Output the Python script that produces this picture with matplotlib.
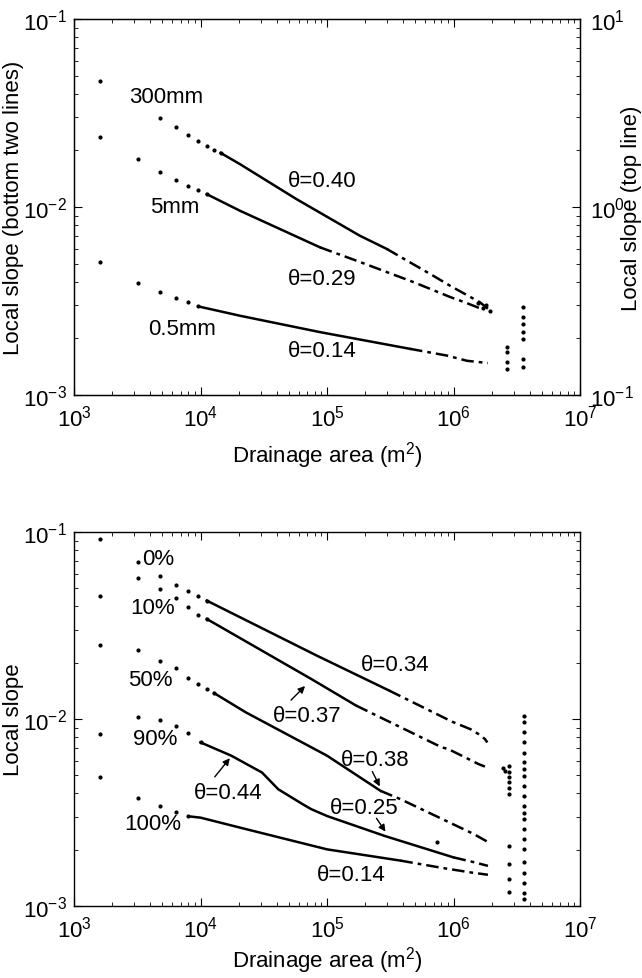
import matplotlib
matplotlib.use("Agg")
import matplotlib.pyplot as plt

plt.rcParams['font.family'] = ['Liberation Sans', 'DejaVu Sans']
plt.rcParams['mathtext.default'] = 'regular'
plt.rcParams['axes.unicode_minus'] = False

# ---- top panel: rainfall runs (300mm is read on the right axis) ----
mm300_area = [1600, 4800, 6400, 8000, 9600, 11200, 12800, 14400, 20500, 57500,
              182000, 297000, 690000, 940000, 1620000, 1900000]
mm300_slope = [4.70, 2.97, 2.67, 2.42, 2.25, 2.12, 2.02, 1.94, 1.69, 1.10,
               0.703, 0.598, 0.431, 0.381, 0.311, 0.285]

mm5_area = [1600, 3200, 4800, 6400, 8000, 9600, 11200, 20500, 88000, 182000,
            480000, 940000, 1230000, 1600000]
mm5_slope = [0.02365, 0.0180, 0.0154, 0.0139, 0.0130, 0.0123, 0.0117, 0.00955,
             0.0061, 0.0051, 0.00399, 0.00332, 0.00311, 0.0029]

mm05_area = [1600, 3200, 4800, 6400, 8000, 9600, 20500, 88000, 453000, 890000,
             1280000, 1870000]
mm05_slope = [0.00508, 0.00393, 0.00354, 0.00328, 0.00311, 0.00296, 0.00264,
              0.00216, 0.00176, 0.00162, 0.00152, 0.00148]

top_scatter_area = [1550000, 1700000, 1800000, 1950000,
                    2630000, 2630000, 2630000, 2630000,
                    3540000, 3540000, 3540000, 3540000, 3540000, 3540000, 3540000]
top_scatter_slope = [0.0031, 0.0029, 0.0030, 0.0028,
                     0.0018, 0.00169, 0.0015, 0.00137,
                     0.00294, 0.0026, 0.00239, 0.00216, 0.00199, 0.00155, 0.00141]

# ---- bottom panel: percentages ----
p0_area = [1600, 3200, 4800, 6400, 8000, 9600, 11200, 83500, 310000, 975000,
           1360000, 1580000, 1770000, 1850000]
p0_slope = [0.0918, 0.069, 0.0584, 0.0523, 0.0486, 0.0453, 0.043, 0.0218, 0.0142,
            0.00968, 0.00883, 0.0083, 0.00782, 0.0075]

p10_area = [1600, 3200, 4800, 6400, 8000, 9600, 11200, 74800, 170000, 810000,
            906000, 1580000, 1770000]
p10_slope = [0.0456, 0.0565, 0.0496, 0.0444, 0.0396, 0.036, 0.0343, 0.0164, 0.0118,
             0.00705, 0.00692, 0.00574, 0.00557]

p50_area = [1600, 3200, 4800, 6400, 8000, 9600, 11200, 12800, 22800, 100000,
            265000, 380000, 1440000, 1870000]
p50_slope = [0.0249, 0.0234, 0.0205, 0.0187, 0.0165, 0.0154, 0.01446, 0.01377,
             0.01086, 0.00637, 0.00413, 0.00373, 0.00243, 0.0022]

p90_area = [1600, 3200, 4800, 6400, 8000, 10000, 17500, 26000, 30600, 41200, 64400,
            74800, 100000, 286000, 1000000, 1430000, 1870000]
p90_slope = [0.0083, 0.01028, 0.0099, 0.00914, 0.0084, 0.0075, 0.00637, 0.0055,
             0.00518, 0.00421, 0.0035, 0.0033, 0.00303, 0.00237, 0.00182, 0.00172,
             0.00164]

p100_area = [1600, 3200, 4800, 6400, 8000, 10000, 22800, 100000, 380000, 810000,
             1390000, 1870000]
p100_slope = [0.00488, 0.00378, 0.00341, 0.00317, 0.00302, 0.00297, 0.00258,
              0.00201, 0.00175, 0.0016, 0.00151, 0.00147]

bot_scatter_area = [740000, 2450000, 2550000] + [2750000] * 10 + [3580000] * 21
bot_scatter_slope = [0.00219, 0.0055, 0.0053,
                     0.0056, 0.0052, 0.0049, 0.0046, 0.0043, 0.00398, 0.00209,
                     0.00168, 0.00139, 0.00119,
                     0.0104, 0.0096, 0.0085, 0.0075, 0.0066, 0.00586, 0.0054,
                     0.00497, 0.0044, 0.00388, 0.00343, 0.00316, 0.00291, 0.00258,
                     0.00228, 0.00201, 0.00171, 0.00151, 0.00133, 0.00118, 0.00109]

xlab = 'Drainage area (m$^2$)'
FS = 16


def draw(ax, area, slope, n_dots, i_tail):
    # separate bins as dots, dense part as a line, sparse tail as dash-dot
    ax.plot(area[:n_dots], slope[:n_dots], '.', color='k', ms=4)
    ax.plot(area[n_dots - 1:i_tail + 1], slope[n_dots - 1:i_tail + 1], '-',
            color='k', lw=1.8)
    ax.plot(area[i_tail:], slope[i_tail:], color='k', lw=1.8,
            linestyle=(0, (5, 2, 1.5, 2)))


def style(ax, right=True):
    ax.set_xscale('log')
    ax.set_yscale('log')
    ax.set_xlim(1e3, 1e7)
    ax.set_ylim(1e-3, 1e-1)
    ax.tick_params(which='both', direction='in', top=True, right=right,
                   labelsize=16, pad=5)
    ax.tick_params(axis='x', pad=7)
    ax.tick_params(which='major', length=6, width=0.8)
    ax.tick_params(which='minor', length=3, width=0.6)
    for s in ax.spines.values():
        s.set_linewidth(1.0)


fig = plt.figure(figsize=(6.42, 9.79), dpi=100)
ax1 = fig.add_axes([0.1153, 0.5955, 0.7882, 0.3841])
ax3 = fig.add_axes([0.1153, 0.0735, 0.7882, 0.3820])

# top panel
style(ax1, right=False)
ax2 = ax1.twinx()
ax2.set_yscale('log')
ax2.set_ylim(0.1, 10)
ax2.tick_params(which='both', direction='in', labelsize=16, pad=7)
ax2.tick_params(which='major', length=6, width=0.8)
ax2.tick_params(which='minor', length=3, width=0.6)

draw(ax2, mm300_area, mm300_slope, 8, 11)
draw(ax1, mm5_area, mm5_slope, 7, 8)
draw(ax1, mm05_area, mm05_slope, 6, 8)
ax1.plot(top_scatter_area, top_scatter_slope, '.', color='k', ms=4)

ax1.text(5330, 0.0385, '300mm', fontsize=FS, ha='center', va='center')
ax1.text(6280, 0.0100, '5mm', fontsize=FS, ha='center', va='center')
ax1.text(7150, 0.00227, '0.5mm', fontsize=FS, ha='center', va='center')
ax1.text(9.1e4, 0.01375, 'θ=0.40', fontsize=FS, ha='center', va='center')
ax1.text(9.1e4, 0.00419, 'θ=0.29', fontsize=FS, ha='center', va='center')
ax1.text(9.1e4, 0.00173, 'θ=0.14', fontsize=FS, ha='center', va='center')

# bottom panel
style(ax3)
draw(ax3, p0_area, p0_slope, 7, 8)
draw(ax3, p10_area, p10_slope, 7, 8)
draw(ax3, p50_area, p50_slope, 8, 10)
draw(ax3, p90_area, p90_slope, 6, 14)
draw(ax3, p100_area, p100_slope, 5, 8)
ax3.plot(bot_scatter_area, bot_scatter_slope, '.', color='k', ms=4)

ax3.text(4620, 0.0722, '0%', fontsize=FS, ha='center', va='center')
ax3.text(4140, 0.0393, '10%', fontsize=FS, ha='center', va='center')
ax3.text(3990, 0.01637, '50%', fontsize=FS, ha='center', va='center')
ax3.text(4370, 0.00791, '90%', fontsize=FS, ha='center', va='center')
ax3.text(4210, 0.00275, '100%', fontsize=FS, ha='center', va='center')
ax3.text(3.45e5, 0.01968, 'θ=0.34', fontsize=FS, ha='center', va='center')
ax3.text(6.95e4, 0.0105, 'θ=0.37', fontsize=FS, ha='center', va='center')
ax3.text(2.39e5, 0.00604, 'θ=0.38', fontsize=FS, ha='center', va='center')
ax3.text(1.65e4, 0.00407, 'θ=0.44', fontsize=FS, ha='center', va='center')
ax3.text(1.96e5, 0.00338, 'θ=0.25', fontsize=FS, ha='center', va='center')
ax3.text(1.55e5, 0.00147, 'θ=0.14', fontsize=FS, ha='center', va='center')

arrow = dict(arrowstyle='-|>', color='k', lw=1.0, mutation_scale=10)
ax3.annotate('', xy=(6.95e4, 0.01538), xytext=(5.01e4, 0.01233), arrowprops=arrow)
ax3.annotate('', xy=(2.67e5, 0.00423), xytext=(2.23e5, 0.0054), arrowprops=arrow)
ax3.annotate('', xy=(1.76e4, 0.00634), xytext=(1.256e4, 0.00478), arrowprops=arrow)
ax3.annotate('', xy=(2.98e5, 0.00243), xytext=(2.39e5, 0.00303), arrowprops=arrow)

# axis labels
fig.text(14 / 642, 1 - 208 / 979, 'Local slope (bottom two lines)', rotation=90,
         ha='center', va='center', fontsize=FS)
fig.text(632 / 642, 1 - 208 / 979, 'Local slope (top line)', rotation=90,
         ha='center', va='center', fontsize=FS)
fig.text(14 / 642, 1 - 720 / 979, 'Local slope', rotation=90,
         ha='center', va='center', fontsize=FS)
fig.text(327 / 642, 1 - 456 / 979, xlab, ha='center', va='center', fontsize=FS)
fig.text(327 / 642, 1 - 961 / 979, xlab, ha='center', va='center', fontsize=FS)

fig.savefig('out.png', dpi=100)
